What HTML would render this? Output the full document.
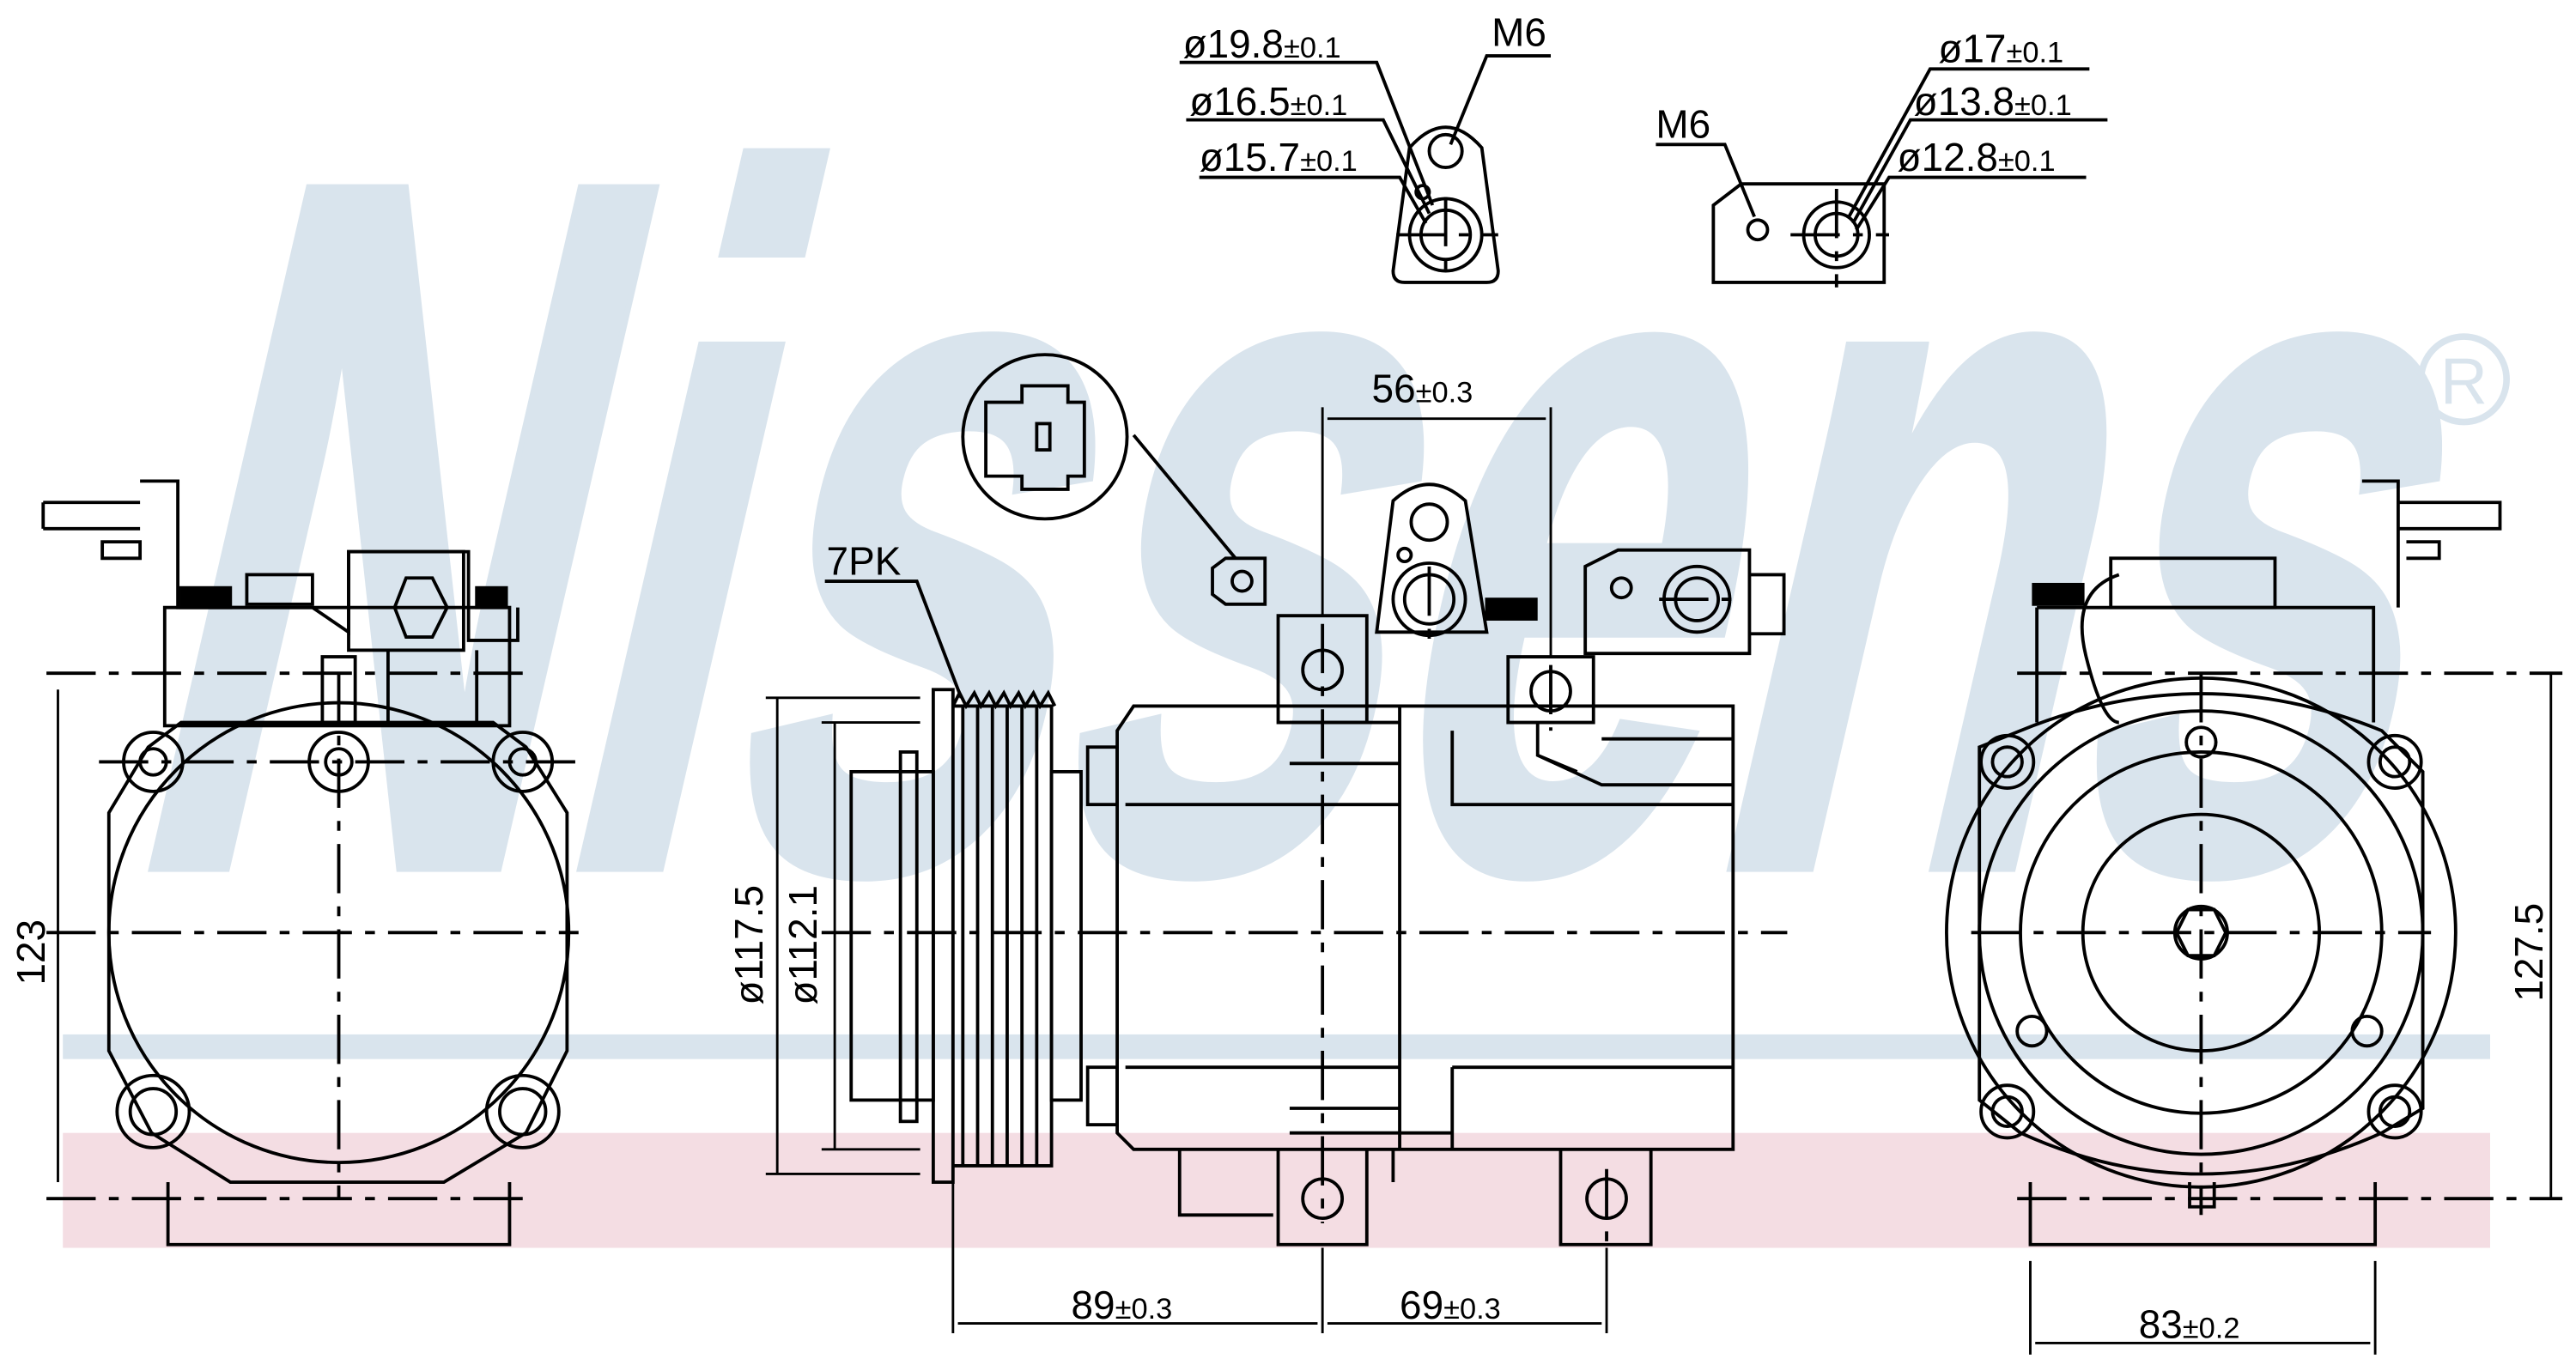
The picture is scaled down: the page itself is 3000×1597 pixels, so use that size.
<!DOCTYPE html>
<html><head><meta charset="utf-8"><style>
html,body{margin:0;padding:0;background:#fff;}
svg{display:block;}
text{font-family:"Liberation Sans",sans-serif;}
</style></head><body>
<svg width="3000" height="1597" viewBox="0 0 1568 835" xmlns="http://www.w3.org/2000/svg">
<!-- watermark -->
<rect x="38" y="630" width="1478" height="15" fill="#d9e4ed"/>
<rect x="38" y="690" width="1478" height="70" fill="#f4dde3"/>
<text transform="skewX(-13)" x="190" y="528" font-size="600" font-weight="bold" fill="#d9e4ed" stroke="#d9e4ed" stroke-width="6" textLength="1380" lengthAdjust="spacingAndGlyphs">Nissens</text>
<circle cx="1500" cy="231" r="26" fill="none" stroke="#d9e4ed" stroke-width="4"/>
<text x="1500" y="246" font-size="40" fill="#d9e4ed" text-anchor="middle">R</text>

<g fill="none" stroke="#000" stroke-width="2">
<!-- LEFT VIEW -->
<path d="M90,455 L110,440 L300,440 L320,455 L345,495 L345,640 L320,690 L270,720 L140,720 L92,690 L66,640 L66,495 Z"/>
<circle cx="206" cy="568" r="140"/>
<circle cx="93" cy="464" r="18"/><circle cx="93" cy="464" r="8"/>
<circle cx="206" cy="464" r="18"/><circle cx="206" cy="464" r="8"/>
<circle cx="318" cy="464" r="18"/><circle cx="318" cy="464" r="8"/>
<circle cx="93" cy="677" r="22"/><circle cx="93" cy="677" r="14"/>
<circle cx="318" cy="677" r="22"/><circle cx="318" cy="677" r="14"/>
<path d="M102,720 V758 H310 V720"/>
<path d="M85,293 H108 V370 H190 L212 385 V336 H285 V390 H315 V370 M26,306 H85 M26,322 H85 M26,306 V322 M62,330 H85 V340 H62 Z"/>
<rect x="100" y="370" width="210" height="72"/>
<rect x="150" y="350" width="40" height="18"/>
<rect x="212" y="336" width="70" height="60"/>
<polygon points="247,352 263,352 272,370 263,388 247,388 240,370"/>
<rect x="196" y="400" width="20" height="40"/>
<path d="M236,396 V440 M290,396 V440"/>
<rect x="110" y="358" width="30" height="12" fill="#000"/>
<rect x="290" y="358" width="18" height="12" fill="#000"/>
<!-- MIDDLE -->
<rect x="568" y="420" width="12" height="300"/>
<rect x="518" y="470" width="50" height="200"/>
<rect x="548" y="458" width="10" height="225"/>
<path d="M580,430 H640 V710 H580"/>
<path d="M586,430 V710 M595,430 V710 M604,430 V710 M613,430 V710 M622,430 V710 M631,430 V710"/>
<path d="M580,430 l4,-8 4,8 5,-8 4,8 5,-8 4,8 5,-8 4,8 5,-8 4,8 5,-8 4,8 5,-8 4,8"/>
<rect x="640" y="470" width="18" height="200"/>
<rect x="662" y="455" width="18" height="35"/><rect x="662" y="650" width="18" height="35"/>
<path d="M680,445 L690,430 H1055 V700 H690 L680,690 Z"/>
<path d="M685,490 H852 M685,650 H852 M852,430 V700 M884,445 V490 H1055 M884,650 V700 M884,650 H1055 M975,450 H1055 M785,440 H852 M785,465 H852 M785,690 H884 M785,675 H852"/>
<path d="M936,440 V460 L975,478 H1055 M936,460 L960,470"/>
<path d="M718,700 V740 H775 M848,700 V720"/>
<path d="M778,375 H832 V440 H778 Z"/><circle cx="805" cy="408" r="12"/>
<path d="M918,400 H970 V440 H918 Z"/><circle cx="944" cy="421" r="12"/>
<path d="M778,700 V758 H832 V700"/><circle cx="805" cy="730" r="12"/>
<path d="M950,700 V758 H1005 V700"/><circle cx="978" cy="730" r="12"/>
<path d="M838,385 L848,305 Q870,285 892,305 L905,385 Z"/>
<circle cx="870" cy="318" r="11"/><circle cx="870" cy="365" r="22"/><circle cx="870" cy="365" r="15"/><circle cx="855" cy="338" r="4"/>
<rect x="905" y="365" width="30" height="12" fill="#000"/>
<path d="M965,398 V345 L985,335 H1065 V398 Z M1065,350 H1086 V386 H1065"/>
<circle cx="987" cy="358" r="6"/><circle cx="1033" cy="365" r="20"/><circle cx="1033" cy="365" r="13"/>
<circle cx="636" cy="266" r="50"/>
<path d="M600,245 H622 V235 H650 V245 H660 V290 H650 V298 H622 V290 H600 Z"/>
<rect x="631" y="258" width="8" height="16"/>
<path d="M690,265 L752,340"/>
<path d="M738,346 L746,340 H770 V368 H746 L738,362 Z"/><circle cx="756" cy="354" r="6"/>
<path d="M502,354 H558 L585,425"/>
<!-- RIGHT VIEW -->
<circle cx="1340" cy="568" r="155"/>
<circle cx="1340" cy="568" r="135"/>
<circle cx="1340" cy="568" r="110"/>
<circle cx="1340" cy="568" r="72"/>
<circle cx="1340" cy="568" r="16"/>
<polygon points="1332,554 1348,554 1355,568 1348,582 1332,582 1325,568"/>
<path d="M1205,455 L1230,445 Q1340,400 1450,445 L1475,470 V675 L1450,690 Q1340,740 1230,690 L1205,670 Z"/>
<circle cx="1222" cy="464" r="16"/><circle cx="1222" cy="464" r="9"/>
<circle cx="1458" cy="464" r="16"/><circle cx="1458" cy="464" r="9"/>
<circle cx="1222" cy="677" r="16"/><circle cx="1222" cy="677" r="9"/>
<circle cx="1458" cy="677" r="16"/><circle cx="1458" cy="677" r="9"/>
<circle cx="1237" cy="628" r="9"/><circle cx="1441" cy="628" r="9"/><circle cx="1340" cy="452" r="9"/>
<path d="M1236,720 V758 H1446 V720 M1333,720 V735 H1348 V720"/>
<path d="M1240,370 H1445 V440 M1240,370 V440 M1438,293 H1460 V370 M1460,306 H1522 V322 H1460 M1465,330 H1485 V340 H1465"/>
<rect x="1285" y="340" width="100" height="30"/>
<path d="M1290,350 Q1260,360 1270,400 T1290,440"/>
<rect x="1238" y="356" width="30" height="12" fill="#000"/>
<!-- TOP DETAILS -->
<path d="M848,165 L858,90 Q880,65 902,90 L912,165 Q912,172 905,172 H855 Q848,172 848,165 Z"/>
<circle cx="880" cy="92" r="10"/><circle cx="880" cy="143" r="22"/><circle cx="880" cy="143" r="15"/><circle cx="866" cy="117" r="4"/>
<path d="M1043,172 V125 L1060,112 H1147 V172 Z"/>
<circle cx="1070" cy="140" r="6"/><circle cx="1118" cy="143" r="20"/><circle cx="1118" cy="143" r="13"/>
<path d="M718,38 H838 L872,125 M722,73 H842 L870,130 M730,108 H852 L868,136 M944,34 H905 L883,88"/>
<path d="M1008,88 H1050 L1068,132 M1272,42 H1175 L1125,133 M1283,73 H1163 L1128,136 M1270,108 H1150 L1130,140"/>
</g>
<!-- dash-dot centerlines -->
<g fill="none" stroke="#000" stroke-width="2" stroke-dasharray="30,8,6,8">
<path d="M28,568 H352 M206,410 V730 M60,464 H352 M28,410 H320 M28,730 H320"/>
<path d="M500,568 H1088 M805,380 V745 M944,405 V445 M978,712 V760 M870,345 V392 M1010,365 H1060"/>
<path d="M1200,568 H1480 M1340,410 V740 M1228,410 H1560 M1228,730 H1560"/>
<path d="M850,143 H912 M880,120 V172 M1090,143 H1150 M1118,115 V175"/>
</g>
<!-- dimension lines -->
<g fill="none" stroke="#000" stroke-width="1.5">
<path d="M35,420 V720 M1553,410 V730 M473,425 V715 M508,440 V700 M805,248 V375 M944,248 V400 M808,255 H941 M580,720 V812 M805,760 V812 M978,760 V812 M583,806 H802 M808,806 H975 M1236,768 V825 M1446,768 V825 M1239,818 H1443 M466,425 H560 M466,715 H560 M500,440 H560 M500,700 H560"/>
</g>
<g font-size="24" fill="#000">
<text x="720" y="35">ø19.8<tspan font-size="18">±0.1</tspan></text>
<text x="908" y="28">M6</text>
<text x="724" y="70">ø16.5<tspan font-size="18">±0.1</tspan></text>
<text x="730" y="104">ø15.7<tspan font-size="18">±0.1</tspan></text>
<text x="1008" y="84">M6</text>
<text x="1180" y="38">ø17<tspan font-size="18">±0.1</tspan></text>
<text x="1165" y="70">ø13.8<tspan font-size="18">±0.1</tspan></text>
<text x="1155" y="104">ø12.8<tspan font-size="18">±0.1</tspan></text>
<text x="835" y="245">56<tspan font-size="18">±0.3</tspan></text>
<text x="503" y="350">7PK</text>
<text x="652" y="803">89<tspan font-size="18">±0.3</tspan></text>
<text x="852" y="803">69<tspan font-size="18">±0.3</tspan></text>
<text x="1302" y="815">83<tspan font-size="18">±0.2</tspan></text>
<text transform="translate(27,600) rotate(-90)">123</text>
<text transform="translate(464,612) rotate(-90)">ø117.5</text>
<text transform="translate(497,612) rotate(-90)">ø112.1</text>
<text transform="translate(1548,610) rotate(-90)">127.5</text>
</g>
</svg>
</body></html>
